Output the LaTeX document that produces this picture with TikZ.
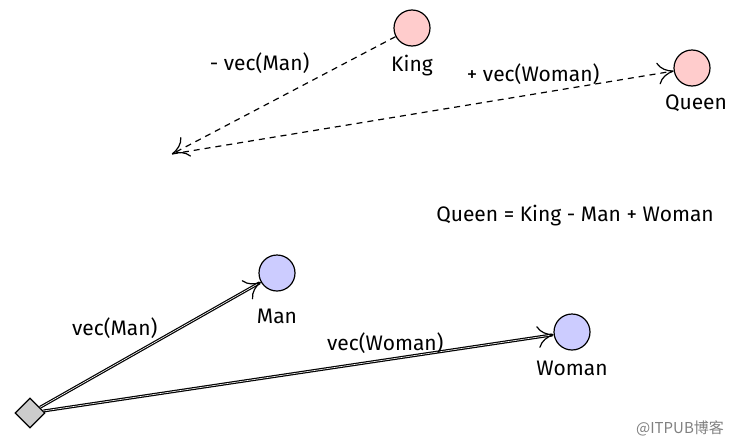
\documentclass[tikz,border=0pt]{standalone}
\usepackage{fontspec}
\setmainfont{Fira Sans}[FontFace={m}{n}{Fira Sans Medium}]
\newfontfamily\cjk{Noto Sans CJK SC}
\usetikzlibrary{shapes.geometric,arrows.meta}
\begin{document}
\begin{tikzpicture}[x=1pt,y=-1pt,
  >={To[length=16pt,width=22pt]},
  word/.style={draw, circle, minimum size=36pt, inner sep=0pt, line width=1.2pt},
  red word/.style={word, fill=red!20},
  blue word/.style={word, fill=blue!20},
  lbl/.style={font=\fontsize{21}{24}\selectfont},
  vec/.style={->, line width=1.2pt},
  shift vec/.style={->, line width=1.2pt, dash pattern=on 6pt off 5pt}]
\useasboundingbox (0,0) rectangle (733,442);
% words
\node[red word] (king) at (412,28) {};
\node[lbl] at (412,66) {King};
\node[red word] (queen) at (692,68) {};
\node[lbl] at (696,103) {Queen};
\node[blue word] (man) at (277,273) {};
\node[lbl] at (277,316) {Man};
\node[blue word] (woman) at (572,332) {};
\node[lbl] at (572,368) {Woman};
% origin
\node[draw, diamond, fill=gray!40, minimum size=30pt, inner sep=0pt, line width=1.2pt] (origin) at (30,413) {};
\coordinate (tip) at (172,154);
% vectors
\draw[vec, double] (origin) -- (man) node[pos=0.55, above left, lbl, yshift=-4pt] {vec(Man)};
\draw[vec, double] (origin) -- (woman) node[pos=0.67, above, lbl, yshift=2pt] {vec(Woman)};
\draw[shift vec] (king) -- (tip) node[pos=0.35, above left, lbl, xshift=-4pt] {- vec(Man)};
\draw[shift vec] (tip) -- (queen) node[pos=0.72, above, lbl, yshift=6pt] {+ vec(Woman)};
% formula
\node[lbl] at (575,216) {Queen = King - Man + Woman};
\node[font=\cjk\fontsize{15}{17}\selectfont, text=gray] at (680,428) {@ITPUB博客};
\end{tikzpicture}
\end{document}
